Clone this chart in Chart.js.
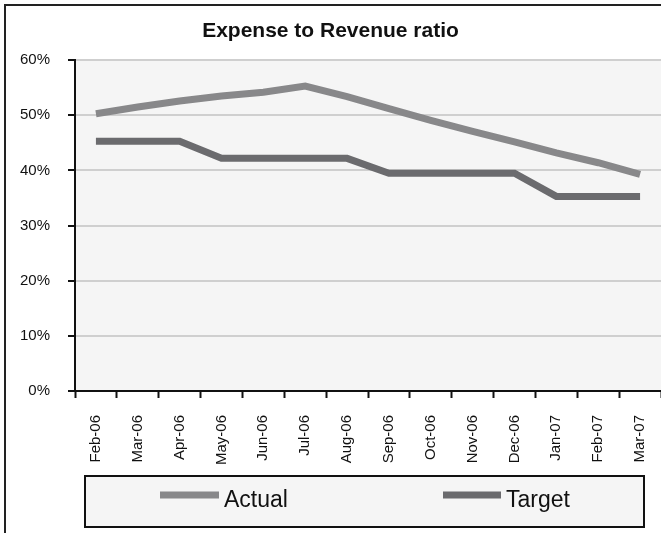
<!DOCTYPE html>
<html>
<head>
<meta charset="utf-8">
<script src="https://cdn.jsdelivr.net/npm/chart.js@4"></script>
<style>
    html, body { margin: 0; padding: 0; background: #fff; overflow: hidden; }
    #wrap { position: relative; width: 661px; height: 533px; }
</style>
</head>
<body>
<div id="wrap"><canvas id="ratioChart" width="661" height="533"></canvas></div>
<script>
// Data
const months = ['Feb-06', 'Mar-06', 'Apr-06', 'May-06', 'Jun-06', 'Jul-06', 'Aug-06',
    'Sep-06', 'Oct-06', 'Nov-06', 'Dec-06', 'Jan-07', 'Feb-07', 'Mar-07'];
const actual = [50.3, 51.5, 52.6, 53.5, 54.2, 55.3, 53.4, 51.2, 49.1, 47.1, 45.2, 43.2, 41.4, 39.3];
const target = [45.3, 45.3, 45.3, 42.2, 42.2, 42.2, 42.2, 39.5, 39.5, 39.5, 39.5, 35.3, 35.3, 35.3];
const yTicks = [0, 10, 20, 30, 40, 50, 60];

const FONT = "'Liberation Sans', Arial, sans-serif";

/**
 * Frame, plot background and the boxed legend
 */
const decorPlugin = {
    id: 'decor',
    beforeDraw(chart) {
        const ctx = chart.ctx;
        const area = chart.chartArea;
        ctx.save();
        ctx.fillStyle = '#ffffff';
        ctx.fillRect(0, 0, chart.width, chart.height);
        // outer frame (cut by the window on the right and bottom)
        ctx.strokeStyle = '#222';
        ctx.lineWidth = 2;
        ctx.strokeRect(5, 5, chart.width + 20, chart.height + 20);
        // plot area fill
        ctx.fillStyle = '#f5f5f5';
        ctx.fillRect(area.left, area.top, area.right - area.left, area.bottom - area.top);
        ctx.restore();
    },
    afterDraw(chart) {
        const ctx = chart.ctx;
        ctx.save();
        ctx.fillStyle = '#f5f5f5';
        ctx.fillRect(85, 476, 559, 51);
        ctx.strokeStyle = '#111';
        ctx.lineWidth = 2;
        ctx.strokeRect(85, 476, 559, 51);

        const items = [{ x: 160, w: 59 }, { x: 443, w: 58 }];
        chart.data.datasets.forEach((ds, i) => {
            const it = items[i];
            ctx.strokeStyle = ds.borderColor;
            ctx.lineWidth = 7;
            ctx.beginPath();
            ctx.moveTo(it.x, 495);
            ctx.lineTo(it.x + it.w, 495);
            ctx.stroke();
            ctx.fillStyle = '#111';
            ctx.font = '23px ' + FONT;
            ctx.textBaseline = 'alphabetic';
            ctx.textAlign = 'left';
            ctx.fillText(ds.label, it.x + it.w + 5, 507);
        });
        ctx.restore();
    }
};

new Chart(document.getElementById('ratioChart').getContext('2d'), {
    type: 'line',
    data: {
        labels: months,
        datasets: [
            {
                label: 'Actual',
                data: actual,
                borderColor: '#88888a',
                backgroundColor: '#88888a',
                borderWidth: 7,
                pointRadius: 0,
                tension: 0,
                borderJoinStyle: 'miter',
                borderCapStyle: 'butt'
            },
            {
                label: 'Target',
                data: target,
                borderColor: '#6b6b6e',
                backgroundColor: '#6b6b6e',
                borderWidth: 7,
                pointRadius: 0,
                tension: 0,
                borderJoinStyle: 'miter',
                borderCapStyle: 'butt'
            }
        ]
    },
    options: {
        responsive: false,
        animation: false,
        layout: { padding: { left: 0, right: 0, top: 0, bottom: 47 } },
        plugins: {
            legend: { display: false },
            tooltip: { enabled: false },
            title: {
                display: true,
                text: 'Expense to Revenue ratio',
                color: '#111',
                font: { family: FONT, size: 21, weight: 'bold' },
                padding: { top: 19, bottom: 16 }
            }
        },
        scales: {
            x: {
                offset: true,
                grid: {
                    offset: true,
                    drawOnChartArea: false,
                    tickColor: '#111',
                    tickWidth: 2,
                    tickLength: 7
                },
                border: { color: '#111', width: 2 },
                ticks: {
                    autoSkip: false,
                    minRotation: 90,
                    maxRotation: 90,
                    padding: 17,
                    color: '#111',
                    font: { family: FONT, size: 15 }
                },
                afterFit(scale) {
                    scale.height = 95;
                    // let the plot run to the right edge like the original
                    scale.paddingLeft = 0;
                    scale.paddingRight = 0;
                }
            },
            y: {
                min: 0,
                max: 60,
                afterBuildTicks(scale) { scale.ticks = yTicks.map(v => ({ value: v })); },
                grid: {
                    color: '#cfcfcf',
                    lineWidth: 2,
                    tickColor: '#111',
                    tickWidth: 2,
                    tickLength: 7
                },
                border: { color: '#111', width: 2 },
                ticks: {
                    padding: 18,
                    color: '#111',
                    font: { family: FONT, size: 15 },
                    callback: v => v + '%'
                },
                afterFit(scale) { scale.width = 75; }
            }
        }
    },
    plugins: [decorPlugin]
});
</script>
</body>
</html>
